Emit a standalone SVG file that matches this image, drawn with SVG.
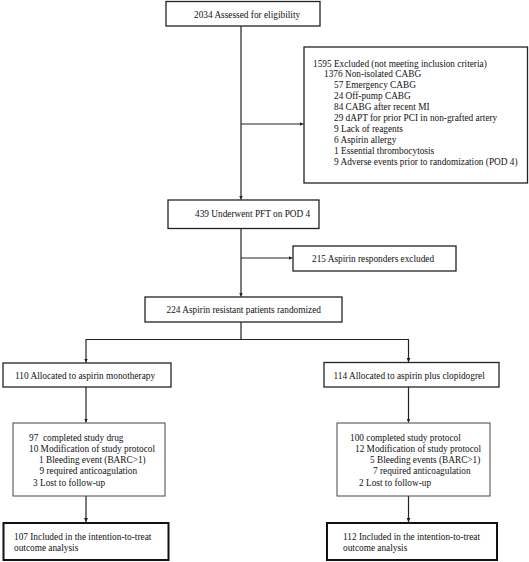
<svg xmlns="http://www.w3.org/2000/svg" width="529" height="562" viewBox="0 0 529 562">
<style>
text{font-family:"Liberation Serif","Times New Roman",serif;font-size:9.3px;fill:#111}
.pre{white-space:pre}
.box{fill:#fff;stroke:#222;stroke-width:1.3}
.thin{fill:#fff;stroke:#444;stroke-width:1}
.thick{fill:#fff;stroke:#111;stroke-width:2}
.ln{fill:none;stroke:#222;stroke-width:1.2}
</style>
<defs>
<marker id="ah" viewBox="0 0 6 6" refX="6" refY="3" markerWidth="4" markerHeight="4" orient="auto" markerUnits="userSpaceOnUse">
<path d="M0,0 L6,3 L0,6 z" fill="#222"/>
</marker>
</defs>
<rect width="529" height="562" fill="#fff"/>
<g id="connectors">
<line class="ln" x1="241" y1="26" x2="241" y2="199.5" marker-end="url(#ah)"/>
<line class="ln" x1="241" y1="124" x2="303.5" y2="124" marker-end="url(#ah)"/>
<line class="ln" x1="241" y1="228.5" x2="241" y2="296.5" marker-end="url(#ah)"/>
<line class="ln" x1="241" y1="258" x2="292.5" y2="258" marker-end="url(#ah)"/>
<line class="ln" x1="241" y1="322" x2="241" y2="339.5"/>
<polyline class="ln" points="86,339.5 408.5,339.5"/>
<line class="ln" x1="86" y1="339" x2="86" y2="362.5" marker-end="url(#ah)"/>
<line class="ln" x1="408.5" y1="339" x2="408.5" y2="362" marker-end="url(#ah)"/>
<line class="ln" x1="86" y1="387" x2="86" y2="422.5" marker-end="url(#ah)"/>
<line class="ln" x1="408.5" y1="387" x2="408.5" y2="422.5" marker-end="url(#ah)"/>
<line class="ln" x1="86" y1="496" x2="86" y2="522" marker-end="url(#ah)"/>
<line class="ln" x1="408.5" y1="496" x2="408.5" y2="522" marker-end="url(#ah)"/>
</g>
<g id="assessed">
<rect class="box" x="166" y="1.5" width="154" height="24.5"/>
<text x="194" y="17.5">2034 Assessed for eligibility</text>
</g>
<g id="excluded">
<rect class="box" x="304" y="47" width="223.5" height="136"/>
<text x="313" y="66.5">1595 Excluded (not meeting inclusion criteria)</text>
<text x="324" y="77.4">1376 Non-isolated CABG</text>
<text x="334" y="88.3">57 Emergency CABG</text>
<text x="334" y="99.2">24 Off-pump CABG</text>
<text x="334" y="110.1">84 CABG after recent MI</text>
<text x="334" y="121">29 dAPT for prior PCI in non-grafted artery</text>
<text x="334" y="131.9">9 Lack of reagents</text>
<text x="334" y="142.8">6 Aspirin allergy</text>
<text x="334" y="153.7">1 Essential thrombocytosis</text>
<text x="334" y="164.6">9 Adverse events prior to randomization (POD 4)</text>
</g>
<g id="pft">
<rect class="box" x="168" y="200" width="151" height="28.5"/>
<text x="195" y="217">439 Underwent PFT on POD 4</text>
</g>
<g id="responders">
<rect class="box" x="293" y="246" width="163" height="25"/>
<text x="312" y="261.5">215 Aspirin responders excluded</text>
</g>
<g id="randomized">
<rect class="box" x="145" y="297" width="197" height="25"/>
<text x="166.5" y="312.5">224 Aspirin resistant patients randomized</text>
</g>
<g id="mono">
<rect class="box" x="3" y="363" width="168" height="24"/>
<text x="15" y="379">110 Allocated to aspirin monotherapy</text>
</g>
<g id="dapt">
<rect class="box" x="324" y="362.5" width="175" height="24.5"/>
<text x="333.5" y="379">114 Allocated to aspirin plus clopidogrel</text>
</g>
<g id="mono-detail">
<rect class="thin" x="13" y="423" width="152" height="73"/>
<text class="pre" x="29" y="440.5">97  completed study drug</text>
<text x="29" y="451.8">10 Modification of study protocol</text>
<text x="39" y="463">1 Bleeding event (BARC&gt;1)</text>
<text x="39.5" y="474.3">9 required anticoagulation</text>
<text x="33" y="485.5">3 Lost to follow-up</text>
</g>
<g id="dapt-detail">
<rect class="thin" x="337" y="423" width="153" height="73"/>
<text x="350" y="440.5">100 completed study protocol</text>
<text x="355" y="451.8">12 Modification of study protocol</text>
<text x="370" y="463">5 Bleeding events (BARC&gt;1)</text>
<text x="373" y="474.3">7 required anticoagulation</text>
<text x="359" y="485.5">2 Lost to follow-up</text>
</g>
<g id="mono-itt">
<rect class="thick" x="3.5" y="523" width="165" height="37"/>
<text x="14" y="539.5">107 Included in the intention-to-treat</text>
<text x="14" y="550.5">outcome analysis</text>
</g>
<g id="dapt-itt">
<rect class="thick" x="327" y="523" width="170" height="37"/>
<text x="343" y="539.5">112 Included in the intention-to-treat</text>
<text x="343" y="550.5">outcome analysis</text>
</g>
</svg>
